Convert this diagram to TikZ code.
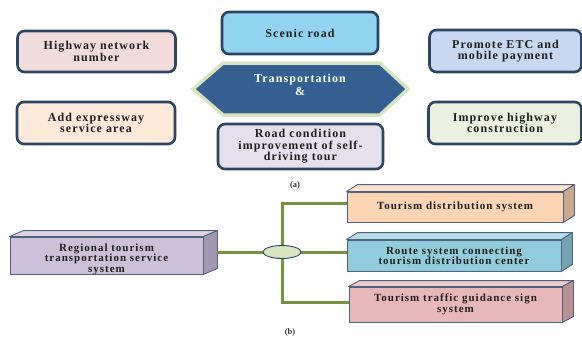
\documentclass[tikz,border=0pt]{standalone}
\usepackage{fontspec}
\setmainfont{Liberation Serif}
\newfontfamily\lbl{Liberation Serif}[LetterSpace=9]
\usetikzlibrary{shapes.geometric}
\definecolor{bord}{HTML}{2C4566}
\definecolor{cHigh}{HTML}{F2DCDB}
\definecolor{cAdd}{HTML}{FDE9D9}
\definecolor{cScen}{HTML}{92D3F0}
\definecolor{cHex}{HTML}{365F91}
\definecolor{cHexB}{HTML}{D7E4BD}
\definecolor{cRoad}{HTML}{E5E0EC}
\definecolor{cProm}{HTML}{C6D9F1}
\definecolor{cImp}{HTML}{EBF1DE}
\definecolor{edge}{HTML}{4F6080}
\definecolor{gline}{HTML}{76923C}
\definecolor{rF}{HTML}{CCC0DA}\definecolor{rT}{HTML}{DDD5E6}\definecolor{rS}{HTML}{A497B3}
\definecolor{tF}{HTML}{FCD5B4}\definecolor{tT}{HTML}{FDE3CD}\definecolor{tS}{HTML}{C9A98F}
\definecolor{uF}{HTML}{92CDDC}\definecolor{uT}{HTML}{B6DDE8}\definecolor{uS}{HTML}{75A4B0}
\definecolor{gF}{HTML}{E6B9B8}\definecolor{gT}{HTML}{EDCCCB}\definecolor{gS}{HTML}{B89393}
\begin{document}
\begin{tikzpicture}[x=1pt,y=-1pt,
  rbox/.style={draw=bord, line width=2.6pt, rounded corners=7pt, align=center, inner sep=0pt,
    font=\lbl\bfseries\fontsize{12}{11.5}\selectfont, text=black!88},
  front/.style={draw=edge, line width=0.9pt, align=center, inner sep=0pt,
    font=\lbl\bfseries\fontsize{11}{10.5}\selectfont, text=black!88},
  face/.style={draw=edge, line width=0.9pt, line join=round},
  gl/.style={draw=gline, line width=3pt},
  captxt/.style={font=\bfseries\fontsize{8.5}{8.5}\selectfont, text=black!80}]
\useasboundingbox (0,0) rectangle (582,340);
% top part
\node[rbox, fill=cHigh, minimum width=158pt, minimum height=41pt] (high) at (96.5,51.5) {Highway network\\number};
\node[rbox, fill=cAdd, minimum width=158pt, minimum height=42pt] (add) at (96,123) {Add expressway\\service area};
\node[rbox, fill=cScen, minimum width=156pt, minimum height=42pt] (scen) at (300,33) {Scenic road};
\path[draw=cHexB, fill=cHex, line width=3.5pt, line join=miter]
  (193,89) -- (223,63) -- (380,63) -- (408,89) -- (380,115) -- (223,115) -- cycle;
\node[align=center, text=white, font=\lbl\bfseries\fontsize{12}{13}\selectfont] (hex) at (300,85) {Transportation\\\&};
\node[rbox, fill=cRoad, minimum width=165pt, minimum height=45pt] (road) at (300.5,146.5) {Road condition\\improvement of self-\\driving tour};
\node[rbox, fill=cProm, minimum width=152pt, minimum height=42pt] (prom) at (505.5,51) {Promote ETC and\\mobile payment};
\node[rbox, fill=cImp, minimum width=153pt, minimum height=42pt] (imp) at (505,123) {Improve highway\\construction};
\node[captxt] (capa) at (295,185) {(a)};
% bottom part
\node[front, fill=rF, minimum width=193pt, minimum height=37pt] (reg) at (106.5,255.5) {};
\node[align=center, font=\lbl\bfseries\fontsize{11}{10.5}\selectfont, text=black!88, inner sep=0pt] (regtxt) at (106.5,259) {Regional tourism\\transportation service\\system};
\draw[face, fill=rT] (reg.north west) -- ++(14,-6) -- ([shift={(14,-6)}]reg.north east) -- (reg.north east) -- cycle;
\draw[face, fill=rS] (reg.north east) -- ++(14,-6) -- ([shift={(14,-6)}]reg.south east) -- (reg.south east) -- cycle;
\node[front, fill=tF, minimum width=216pt, minimum height=30pt] (td) at (455,207) {Tourism distribution system};
\draw[face, fill=tT] (td.north west) -- ++(11,-7) -- ([shift={(11,-7)}]td.north east) -- (td.north east) -- cycle;
\draw[face, fill=tS] (td.north east) -- ++(11,-7) -- ([shift={(11,-7)}]td.south east) -- (td.south east) -- cycle;
\node[front, fill=uF, minimum width=214pt, minimum height=31pt] (rt) at (454,255.5) {Route system connecting\\tourism distribution center};
\draw[face, fill=uT] (rt.north west) -- ++(11,-7) -- ([shift={(11,-7)}]rt.north east) -- (rt.north east) -- cycle;
\draw[face, fill=uS] (rt.north east) -- ++(11,-7) -- ([shift={(11,-7)}]rt.south east) -- (rt.south east) -- cycle;
\node[front, fill=gF, minimum width=213pt, minimum height=35pt] (tg) at (455.5,304.5) {Tourism traffic guidance sign\\system};
\draw[face, fill=gT] (tg.north west) -- ++(11,-6) -- ([shift={(11,-6)}]tg.north east) -- (tg.north east) -- cycle;
\draw[face, fill=gS] (tg.north east) -- ++(11,-6) -- ([shift={(11,-6)}]tg.south east) -- (tg.south east) -- cycle;
% connectors
\coordinate (hc) at (282,252);
\coordinate (j1) at (282,203);
\coordinate (j3) at (282,302);
\coordinate (rside) at ([xshift=14pt]reg.east);
\draw[gl] (rside |- hc) -- (hc);
\draw[gl] (hc) -- (hc -| rt.west);
\draw[gl] (td.west |- j1) -- (j1) -- (j3) -- (tg.west |- j3);
\node[draw=bord, fill=cHexB, line width=0.9pt, ellipse, minimum width=38pt, minimum height=13pt, inner sep=0pt] (hub) at (hc) {};
\node[captxt] (capb) at (290,332) {(b)};
\end{tikzpicture}
\end{document}
